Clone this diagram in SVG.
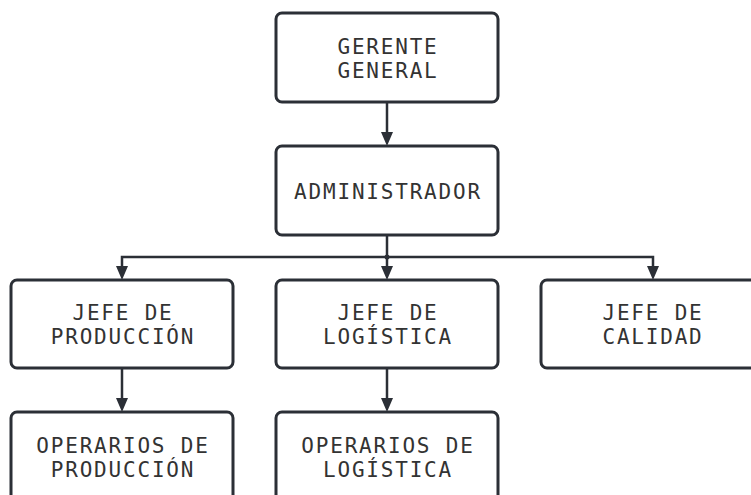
<svg xmlns="http://www.w3.org/2000/svg" width="751" height="495" viewBox="0 0 751 495">
<style>
.box{fill:#fff;stroke:#2b2f36;stroke-width:3}
.t{font-family:"DejaVu Sans Mono","Liberation Mono",monospace;font-size:21px;fill:#333;text-anchor:middle;letter-spacing:1.8px}
.c{fill:none;stroke:#2b2f36;stroke-width:2.5}
</style>
<rect width="751" height="495" fill="#fff"/>
<g id="connectors">
<path class="c" d="M387,102 V134"/>
<path class="c" d="M387,235 V257"/>
<path class="c" d="M387,257 H122 V268"/>
<path class="c" d="M387,257 V268"/>
<path class="c" d="M387,257 H653 V268"/>
<path class="c" d="M122,368 V400"/>
<path class="c" d="M387,368 V400"/>
<path d="M381,132 H393 L387,146 Z M116,266 H128 L122,280 Z M381,266 H393 L387,280 Z M647,266 H659 L653,280 Z M116,398 H128 L122,412 Z M381,398 H393 L387,412 Z" fill="#2b2f36"/>
<circle cx="387" cy="257" r="2.5" fill="#2b2f36"/>
</g>
<g id="gerente">
<rect class="box" x="276" y="13" width="222" height="89" rx="6"/>
<text class="t" x="388" y="54">GERENTE</text>
<text class="t" x="388" y="78">GENERAL</text>
</g>
<g id="administrador">
<rect class="box" x="276" y="146" width="222" height="89" rx="6"/>
<text class="t" x="388" y="199">ADMINISTRADOR</text>
</g>
<g id="jefe-produccion">
<rect class="box" x="11" y="280" width="222" height="88" rx="6"/>
<text class="t" x="123" y="320">JEFE DE</text>
<text class="t" x="123" y="344">PRODUCCIÓN</text>
</g>
<g id="jefe-logistica">
<rect class="box" x="276" y="280" width="222" height="88" rx="6"/>
<text class="t" x="388" y="320">JEFE DE</text>
<text class="t" x="388" y="344">LOGÍSTICA</text>
</g>
<g id="jefe-calidad">
<rect class="box" x="541" y="280" width="222" height="88" rx="6"/>
<text class="t" x="653" y="320">JEFE DE</text>
<text class="t" x="653" y="344">CALIDAD</text>
</g>
<g id="operarios-produccion">
<rect class="box" x="11" y="412" width="222" height="89" rx="6"/>
<text class="t" x="123" y="453">OPERARIOS DE</text>
<text class="t" x="123" y="477">PRODUCCIÓN</text>
</g>
<g id="operarios-logistica">
<rect class="box" x="276" y="412" width="222" height="89" rx="6"/>
<text class="t" x="388" y="453">OPERARIOS DE</text>
<text class="t" x="388" y="477">LOGÍSTICA</text>
</g>
</svg>
